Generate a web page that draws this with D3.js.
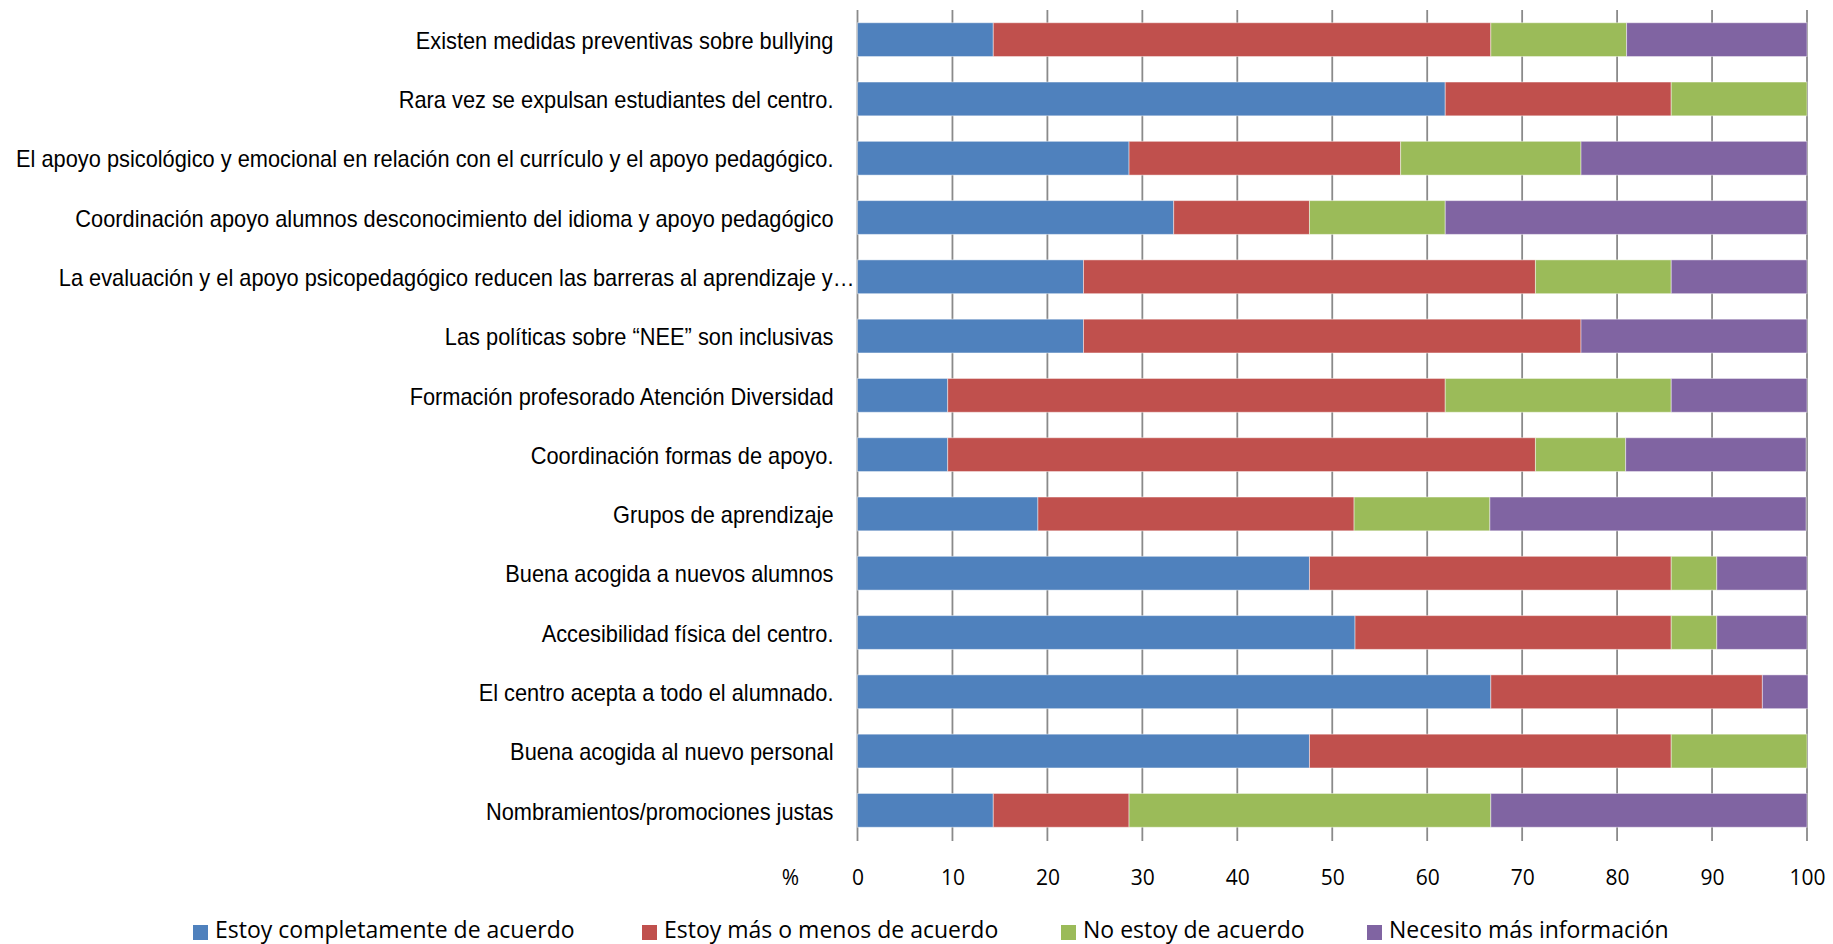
<!DOCTYPE html>
<html><head><meta charset="utf-8">
<script src="https://cdn.jsdelivr.net/npm/d3@7"></script>
<style>
html,body{margin:0;padding:0;background:#fff;}
svg{display:block;}
.cat{font-family:"Liberation Sans",Arial,sans-serif;font-size:23px;fill:#000;}
.tick text,.pct{font-family:"Open Sans",Calibri,sans-serif;font-size:21px;fill:#000;}
.leg{font-family:"Open Sans",Calibri,sans-serif;font-size:23px;fill:#000;}
</style></head><body>
<svg id="c" width="1833" height="944"></svg>
<script>
const categories = [
  "Existen medidas preventivas sobre bullying",
  "Rara vez se expulsan estudiantes del centro.",
  "El apoyo psicológico y emocional en relación con el currículo y el apoyo pedagógico.",
  "Coordinación apoyo alumnos desconocimiento del idioma y apoyo pedagógico",
  "La evaluación y el apoyo psicopedagógico reducen las barreras al aprendizaje y…",
  "Las políticas sobre “NEE” son inclusivas",
  "Formación profesorado Atención Diversidad",
  "Coordinación formas de apoyo.",
  "Grupos de aprendizaje",
  "Buena acogida a nuevos alumnos",
  "Accesibilidad física del centro.",
  "El centro acepta a todo el alumnado.",
  "Buena acogida al nuevo personal",
  "Nombramientos/promociones justas"
];
const seriesNames = ["Estoy completamente de acuerdo","Estoy más o menos de acuerdo","No estoy de acuerdo","Necesito más información"];
const colors = ["#4F81BD","#C0504D","#9BBB59","#8064A2"];
const completamente = [14.3,61.9,28.6,33.3,23.8,23.8,9.5,9.5,19.0,47.6,52.4,66.7,47.6,14.3];
const masOMenos     = [52.4,23.8,28.6,14.3,47.6,52.4,52.4,61.9,33.3,38.1,33.3,28.6,38.1,14.3];
const noEstoy       = [14.3,14.3,19.0,14.3,14.3,0,23.8,9.5,14.3,4.8,4.8,0,14.3,38.1];
const necesito      = [19.0,0,23.8,38.1,14.3,23.8,14.3,19.0,33.3,9.5,9.5,4.8,0,33.3];
const tickValues = [0,10,20,30,40,50,60,70,80,90,100];

const svg = d3.select("#c");
const L = 857.5, R = 1807, T = 10, B = 840;
const x = d3.scaleLinear().domain([0,100]).range([L,R]);
const y = d3.scaleBand().domain(categories).range([T,B]).paddingInner(0.43).paddingOuter(0.215);

const rows = categories.map((c,i)=>({cat:c, vals:[completamente[i],masOMenos[i],noEstoy[i],necesito[i]]}));
const stackData = rows.map(r=>{const o={cat:r.cat}; seriesNames.forEach((s,j)=>o[s]=r.vals[j]); return o;});
const stack = d3.stack().keys(seriesNames)(stackData);

// gridlines
svg.append("g").selectAll("line").data(tickValues).join("line")
  .attr("x1",d=>x(d)).attr("x2",d=>x(d)).attr("y1",T).attr("y2",B+1)
  .attr("stroke","#8a8a8a").attr("stroke-width",1.8);

// bars
svg.append("g").selectAll("g").data(stack).join("g")
  .attr("fill",(d,i)=>colors[i])
  .selectAll("rect").data(d=>d).join("rect")
  .attr("x",d=>x(d[0])).attr("width",d=>Math.max(0,x(d[1])-x(d[0])))
  .attr("y",d=>y(d.data.cat)).attr("height",y.bandwidth())
  .attr("stroke","#ffffff").attr("stroke-opacity",0.45).attr("stroke-width",1);

// category labels (condensed look)
const sx = 0.948;
svg.append("g").selectAll("text").data(categories).join("text")
  .attr("class","cat")
  .attr("transform",d=>`translate(${L-24+(d.endsWith("…")?21:0)},${y(d)+y.bandwidth()/2+1.5}) scale(${sx},1)`)
  .attr("text-anchor","end").attr("dominant-baseline","central").text(d=>d);

// x axis labels
const ax = svg.append("g").attr("transform",`translate(0,${B})`)
  .call(d3.axisBottom(x).tickValues(tickValues).tickSize(0).tickFormat(d3.format("d")));
ax.select(".domain").remove();
ax.selectAll("text").attr("y",45).attr("dy",null);
svg.append("text").attr("class","pct").attr("x",x(0)-67).attr("y",B+45).attr("text-anchor","middle").text("%");

// legend
const legX = [193,642,1061,1367];
const leg = svg.append("g").selectAll("g").data(seriesNames).join("g")
  .attr("transform",(d,i)=>`translate(${legX[i]},0)`);
leg.append("rect").attr("x",0).attr("y",925).attr("width",15).attr("height",15).attr("fill",(d,i)=>colors[i]);
leg.append("text").attr("class","leg").attr("x",22).attr("y",938).text(d=>d);
</script></body></html>
